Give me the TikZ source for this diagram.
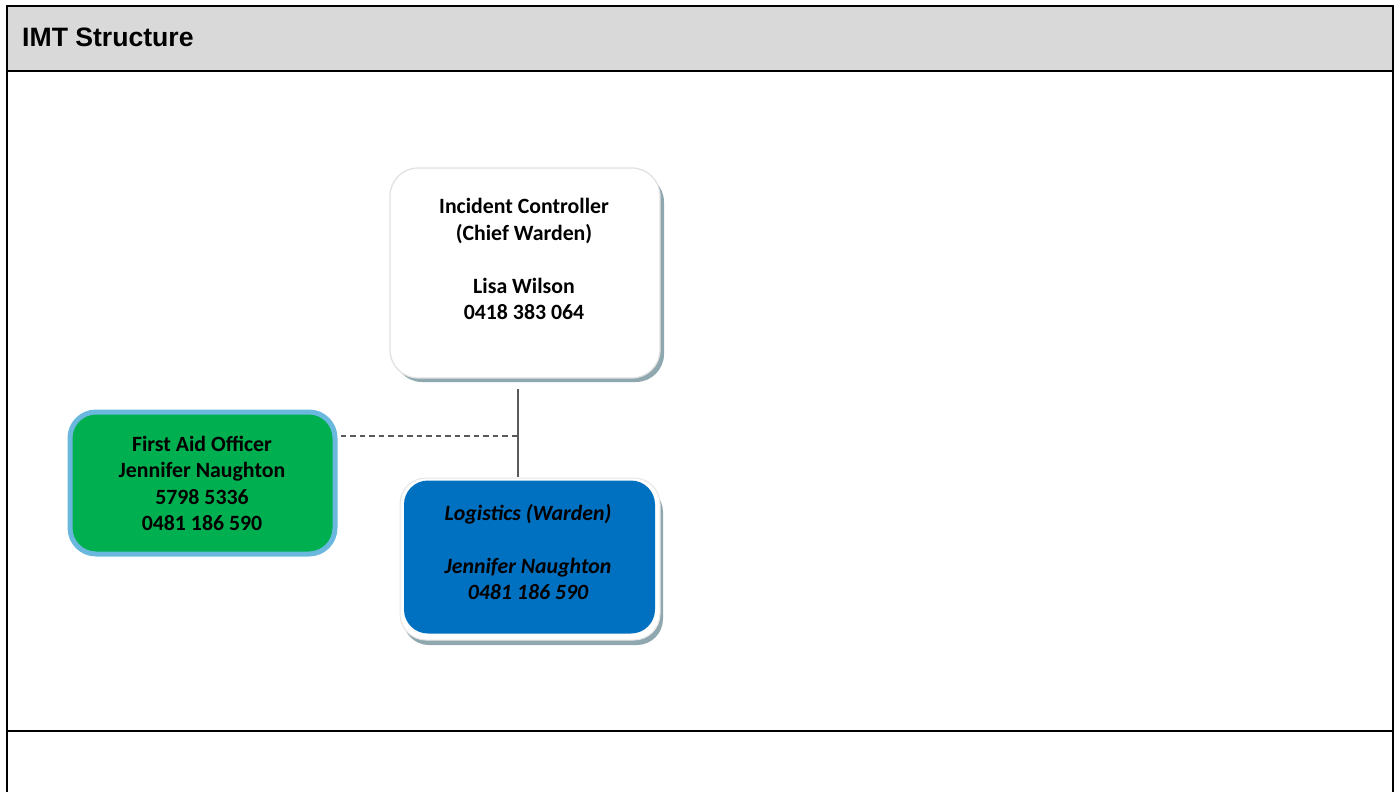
\documentclass[tikz,border=0pt]{standalone}
\usepackage{fontspec}
\setmainfont{Carlito}
\newfontfamily\hdrfont{Liberation Sans}
\definecolor{hdrgray}{HTML}{D9D9D9}
\definecolor{aidgreen}{HTML}{00B050}
\definecolor{aidedge}{HTML}{6AB8DE}
\definecolor{logblue}{HTML}{0070C0}
\definecolor{shadowc}{HTML}{8FA8B0}
\definecolor{linkgray}{HTML}{5A5A5A}
\tikzset{
  rulel/.style={line width=2pt, black},
  whitebox/.style={fill=white, draw=black!12, line width=1.2pt, rounded corners=28pt},
  boxtext/.style={align=center, font=\bfseries\fontsize{21.8}{26.5}\selectfont, inner sep=0pt},
  link/.style={linkgray, line width=2.2pt},
}
\begin{document}
\begin{tikzpicture}[x=1pt,y=-1pt]
\useasboundingbox (0,0) rectangle (1400,792);
% table frame
\fill[hdrgray] (7,7) rectangle (1393,71);
\draw[rulel] (7,792) -- (7,6) -- (1393,6) -- (1393,792);
\draw[rulel] (7,71) -- (1393,71);
\draw[rulel] (7,731) -- (1393,731);
\node[anchor=base west, inner sep=0pt, font=\hdrfont\bfseries\fontsize{26.6}{30}\selectfont] (hdr) at (22,47) {IMT Structure};
% Incident controller
\fill[shadowc] (394,174) [rounded corners=28pt] rectangle (664,382);
\node[whitebox, minimum width=270pt, minimum height=210pt, inner sep=0pt] (ic) at (525,273) {};
\node[boxtext] (ictext) at (524,259) {Incident Controller\\(Chief Warden)\\[26.5pt]Lisa Wilson\\0418 383 064};
% First aid
\node[fill=aidgreen, draw=aidedge, line width=5pt, rounded corners=26pt, minimum width=265pt, minimum height=142pt, inner sep=0pt] (fa) at (202.5,483) {};
\node[boxtext] (fatext) at (202,483.5) {First Aid Officer\\Jennifer Naughton\\5798 5336\\0481 186 590};
% Logistics
\fill[shadowc] (403,486) [rounded corners=26pt] rectangle (663,645);
\node[fill=white, draw=black!10, line width=1pt, rounded corners=26pt, minimum width=260pt, minimum height=162pt, inner sep=0pt] (logout) at (530,559) {};
\node[fill=logblue, rounded corners=24pt, minimum width=251pt, minimum height=153pt, inner sep=0pt] (log) at (529.5,557) {};
\node[boxtext, font=\bfseries\itshape\fontsize{21.8}{26.5}\selectfont] (logtext) at (528,552) {Logistics (Warden)\\[26.5pt]Jennifer Naughton\\0481 186 590};
% connectors
\coordinate (junction) at (518,436);
\draw[link] (518,389) coordinate (icbot) -- (518,477) coordinate (logtop);
\draw[link, dash pattern=on 5.5pt off 4pt] (fa.east |- junction) ++(3,0) -- (junction);
\end{tikzpicture}
\end{document}
